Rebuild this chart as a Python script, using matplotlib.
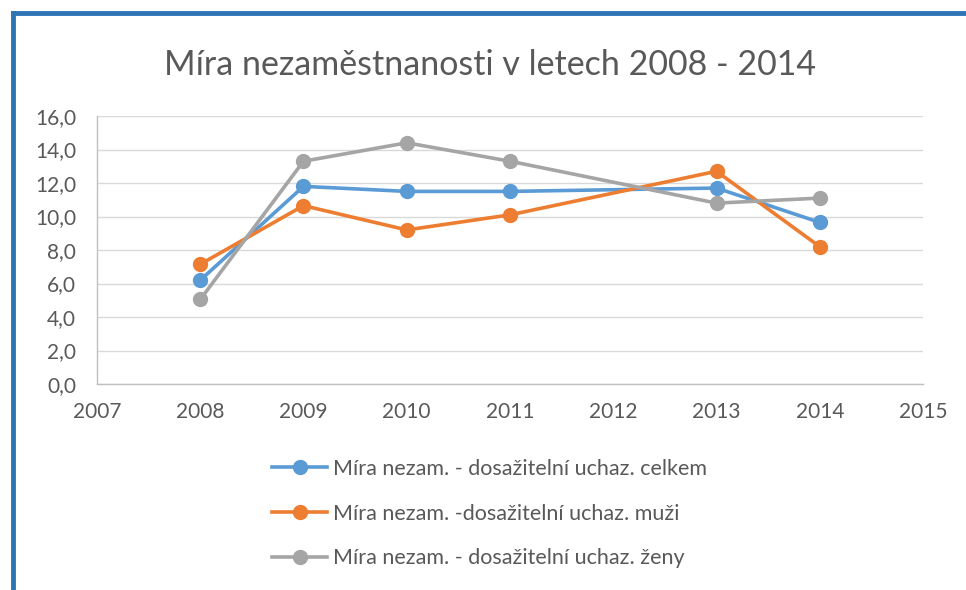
import matplotlib.pyplot as plt
from matplotlib.lines import Line2D
from matplotlib.ticker import FuncFormatter

# data (2012 has no value, the lines just connect 2011 to 2013)
years = [2008, 2009, 2010, 2011, 2013, 2014]
celkem = [6.2, 11.8, 11.5, 11.5, 11.7, 9.65]
muzi = [7.15, 10.65, 9.2, 10.1, 12.7, 8.2]
zeny = [5.05, 13.3, 14.4, 13.3, 10.8, 11.1]

labels = [
    "Míra nezam. - dosažitelní uchaz. celkem",
    "Míra nezam. -dosažitelní uchaz. muži",
    "Míra nezam. - dosažitelní uchaz. ženy",
]
colors = ["#5B9BD5", "#ED7D31", "#A5A5A5"]

plt.rcParams["font.family"] = ["Lato", "DejaVu Sans"]
text_color = "#595959"

fig = plt.figure(figsize=(9.66, 5.9), dpi=100)
ax = fig.add_axes([0.1004, 0.349, 0.8551, 0.4544])

for vals, c, lab in zip([celkem, muzi, zeny], colors, labels):
    ax.plot(years, vals, color=c, lw=2.6, marker="o", markersize=10,
            label=lab, solid_capstyle="round")

ax.set_xlim(2007, 2015)
ax.set_ylim(0, 16)
ax.set_xticks(range(2007, 2016))
ax.set_yticks(range(0, 17, 2))
ax.yaxis.set_major_formatter(FuncFormatter(lambda v, p: f"{v:.1f}".replace(".", ",")))
ax.tick_params(length=0, labelsize=15, labelcolor=text_color)
ax.tick_params(axis="y", pad=15)
ax.tick_params(axis="x", pad=13)
ax.grid(axis="y", color="#D9D9D9", lw=1)
ax.set_axisbelow(True)
for s in ["top", "right"]:
    ax.spines[s].set_visible(False)
for s in ["left", "bottom"]:
    ax.spines[s].set_color("#BFBFBF")
    ax.spines[s].set_linewidth(1)

fig.text(0.507, 0.89, "Míra nezaměstnanosti v letech 2008 - 2014",
         ha="center", va="center", fontsize=24.5, color=text_color)

handles = [Line2D([0], [0], color=c, lw=2.6, marker="o", markersize=10) for c in colors]
fig.legend(handles, labels, loc="upper left", bbox_to_anchor=(0.273, 0.237),
           frameon=False, fontsize=15.5, labelcolor=text_color,
           handlelength=2.55, handletextpad=0.25, labelspacing=1.15,
           borderaxespad=0)

# frame of the original screenshot (blue edge at top and left)
fig.add_artist(Line2D([0.013, 1.0], [0.978, 0.978], color="#2E75B6", lw=3.5,
                      transform=fig.transFigure))
fig.add_artist(Line2D([0.013, 0.013], [0.0, 0.978], color="#2E75B6", lw=3.5,
                      transform=fig.transFigure))

fig.savefig("out.png", dpi=100)
